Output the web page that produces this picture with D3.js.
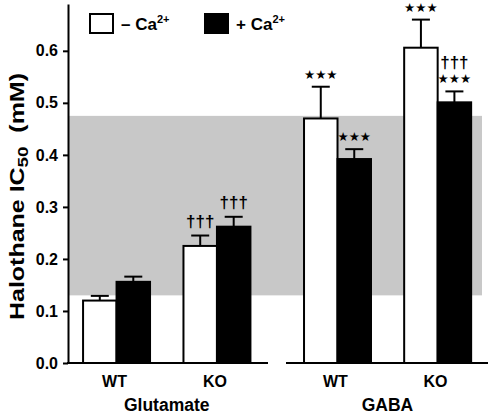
<!DOCTYPE html>
<html><head><meta charset="utf-8">
<script src="https://cdn.jsdelivr.net/npm/d3@7"></script>
<style>
body{margin:0;background:#fff;}
text{font-family:"Liberation Sans",Arial,sans-serif;font-weight:bold;}
</style></head>
<body><svg id="c" width="492" height="417"></svg>
<script>
const groups = ["Glutamate", "GABA"];
const genotypes = ["WT", "KO"];
const conditions = ["minus", "plus"];
const minusCa = [0.120, 0.225, 0.470, 0.606];
const minusCaErr = [0.009, 0.020, 0.061, 0.054];
const plusCa = [0.156, 0.262, 0.392, 0.501];
const plusCaErr = [0.010, 0.019, 0.019, 0.021];
const minusAnn = [[], ["†††"], ["***"], ["***"]];
const plusAnn = [[], ["†††"], ["***"], ["***", "†††"]];
const yTicks = [0, 0.1, 0.2, 0.3, 0.4, 0.5, 0.6];
const bandRange = [0.13, 0.475];

const svg = d3.select("#c");
const y = d3.scaleLinear().domain([0, 0.69]).range([363, 4]);
const panelRanges = [[68, 268], [287, 488]];
const xPanels = panelRanges.map((r, i) => d3.scaleBand().domain(genotypes)
  .range(i === 0 ? [67, 266.5] : [287, 488]).paddingInner(0.333).paddingOuter(i === 0 ? 0.16 : 0.17));
const xc = d3.scaleBand().domain(conditions).range([0, xPanels[0].bandwidth()]).padding(0);

// shaded band
svg.append("rect").attr("x", 68).attr("width", 482 - 68)
  .attr("y", y(bandRange[1])).attr("height", y(bandRange[0]) - y(bandRange[1]))
  .attr("fill", "#c8c8c8");

// data rows
const rows = [];
groups.forEach((g, gi) => genotypes.forEach((ge, ki) => {
  const i = gi * 2 + ki;
  rows.push({g: gi, ge, cond: "minus", v: minusCa[i], e: minusCaErr[i], ann: minusAnn[i]});
  rows.push({g: gi, ge, cond: "plus", v: plusCa[i], e: plusCaErr[i], ann: plusAnn[i]});
}));
const bx = d => xPanels[d.g](d.ge) + xc(d.cond);
const bw = xc.bandwidth();

// error bars
const eb = svg.append("g").attr("stroke", "#000").attr("stroke-width", 2);
rows.forEach(d => {
  const cx = bx(d) + bw / 2;
  eb.append("line").attr("x1", cx).attr("x2", cx).attr("y1", y(d.v)).attr("y2", y(d.v + d.e));
  eb.append("line").attr("x1", cx - 9).attr("x2", cx + 9).attr("y1", y(d.v + d.e)).attr("y2", y(d.v + d.e));
});

// bars
svg.append("g").selectAll("rect").data(rows).join("rect")
  .attr("x", bx).attr("width", bw)
  .attr("y", d => y(d.v)).attr("height", d => y(0) - y(d.v))
  .attr("fill", d => d.cond === "minus" ? "#fff" : "#000")
  .attr("stroke", "#000").attr("stroke-width", 2);

// annotations: '*' rendered as star glyphs, '†' as daggers
rows.forEach(d => {
  const cx = bx(d) + bw / 2;
  let base = y(d.v + d.e) - 8.5;
  d.ann.forEach(a => {
    const star = a.startsWith("*");
    svg.append("text").attr("x", cx).attr("text-anchor", "middle")
      .attr("y", star ? base + 0.5 : base)
      .attr("fill", "#000")
      .style("font-family", star ? "DejaVu Sans" : "Liberation Sans")
      .attr("font-size", star ? 12.5 : 17)
      .style("font-weight", star ? "normal" : "bold")
      .text(star ? a.replace(/\*/g, "\u2605") : a);
    base -= 14.5;
  });
});

// y axis
const yAxis = svg.append("g").attr("transform", "translate(68,0)")
  .call(d3.axisLeft(y).tickValues(yTicks).tickFormat(d3.format(".1f")).tickSize(5).tickSizeOuter(0).tickPadding(5));
yAxis.select(".domain").attr("stroke-width", 2);
yAxis.selectAll(".tick line").attr("stroke-width", 2);
yAxis.selectAll(".tick text").attr("font-size", 16).attr("font-family", "Liberation Sans, Arial, sans-serif").attr("font-weight", "bold").attr("fill", "#000");

// x axis segments
panelRanges.forEach(r => svg.append("line").attr("x1", r[0] - 1).attr("x2", r[1]).attr("y1", y(0)).attr("y2", y(0))
  .attr("stroke", "#000").attr("stroke-width", 2));

// x labels
groups.forEach((g, gi) => {
  const s = xPanels[gi];
  genotypes.forEach(ge => svg.append("text").attr("x", s(ge) + s.bandwidth() / 2 - 2).attr("y", 387)
    .attr("text-anchor", "middle").attr("font-size", 16).text(ge));
  const c = (s(genotypes[0]) + s(genotypes[1]) + s.bandwidth()) / 2;
  svg.append("text").attr("x", c).attr("y", 411).attr("text-anchor", "middle").attr("font-size", 17.5).text(g);
});

// y title
const t = svg.append("text").attr("transform", "translate(24,196.5) rotate(-90)")
  .attr("text-anchor", "middle").attr("font-size", 20)
  .attr("textLength", 247).attr("lengthAdjust", "spacingAndGlyphs");
t.append("tspan").text("Halothane IC");
t.append("tspan").attr("font-size", 15).attr("dy", 4).text("50");
t.append("tspan").attr("dy", -4).text("\u00a0\u00a0(mM)");

// legend
const legend = [{x: 90, fill: "#fff", sign: "–"}, {x: 205, fill: "#000", sign: "+"}];
legend.forEach(l => {
  svg.append("rect").attr("x", l.x).attr("y", 14).attr("width", 23).attr("height", 19)
    .attr("fill", l.fill).attr("stroke", "#000").attr("stroke-width", 2);
  const tx = svg.append("text").attr("x", l.x + 31).attr("y", 30).attr("font-size", 17);
  tx.append("tspan").text(l.sign + " Ca");
  tx.append("tspan").attr("font-size", 11).attr("dy", -7).text("2+");
});
</script></body></html>
